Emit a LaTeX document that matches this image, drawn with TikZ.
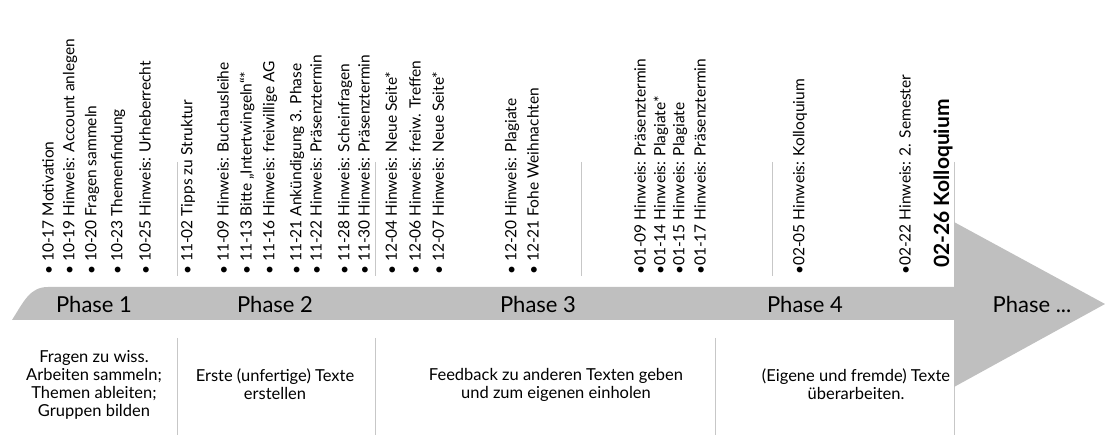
\documentclass[tikz,border=0pt]{standalone}
\usepackage{fontspec}
\setmainfont{Lato}
\begin{document}
\begin{tikzpicture}[x=1pt,y=-1pt,
  sep/.style={draw=black!22, line width=0.8pt},
  band/.style={fill=black!25},
  datum/.style={rotate=90, anchor=west, inner sep=0pt, font=\fontsize{15.5}{18}\selectfont},
  keydate/.style={datum, font=\fontsize{21}{24}\selectfont\bfseries},
  phase/.style={anchor=base, inner sep=0pt, font=\fontsize{22}{26}\selectfont},
  desc/.style={align=center, inner sep=0pt, font=\fontsize{16.5}{18}\selectfont}]
\useasboundingbox (0,0) rectangle (1105,435);

% thin separators between the phases, above and below the band
\foreach \x in {177,375,581,772,954}
  \draw[sep] (\x,162) -- (\x,276);
\foreach \x in {177,375,715,954}
  \draw[sep] (\x,338) -- (\x,435);

% the timeline arrow
\fill[band] (12,320) .. controls (24,301) and (30,287) .. (48,287)
  -- (954,287) -- (954,222) -- (1105,304) -- (954,387) -- (954,320) -- cycle;

% phase names on the band
\node[phase] (p1) at (94,313) {Phase 1};
\node[phase] (p2) at (275,313) {Phase 2};
\node[phase] (p3) at (538,313) {Phase 3};
\node[phase] (p4) at (805,313) {Phase 4};
\node[phase] (p5) at (1032,313) {Phase ...};

% dates, reading upwards from the band
\node[datum] (d01) at (48,275) {• 10-17 Motivation};
\node[datum] (d02) at (70,275) {• 10-19 Hinweis: Account anlegen};
\node[datum] (d03) at (92,275) {• 10-20 Fragen sammeln};
\node[datum] (d04) at (118,275) {• 10-23 Themenfindung};
\node[datum] (d05) at (145,275) {• 10-25 Hinweis: Urheberrecht};
\node[datum] (d06) at (188,275) {• 11-02 Tipps zu Struktur};
\node[datum] (d07) at (223,275) {• 11-09 Hinweis: Buchausleihe};
\node[datum] (d08) at (247,275) {• 11-13 Bitte „Intertwingeln“*};
\node[datum] (d09) at (270,275) {• 11-16 Hinweis: freiwillige AG};
\node[datum] (d10) at (297,275) {• 11-21 Ankündigung 3. Phase};
\node[datum] (d11) at (316,275) {• 11-22 Hinweis: Präsenztermin};
\node[datum] (d12) at (345,275) {• 11-28 Hinweis: Scheinfragen};
\node[datum] (d13) at (364,275) {• 11-30 Hinweis: Präsenztermin};
\node[datum] (d14) at (391,275) {• 12-04 Hinweis: Neue Seite*};
\node[datum] (d15) at (415,275) {• 12-06 Hinweis: freiw. Treffen};
\node[datum] (d16) at (438,275) {• 12-07 Hinweis: Neue Seite*};
\node[datum] (d17) at (512,275) {• 12-20 Hinweis: Plagiate};
\node[datum] (d18) at (533,275) {• 12-21 Fohe Weihnachten};
\node[datum] (d19) at (640,275) {•01-09 Hinweis: Präsenztermin};
\node[datum] (d20) at (661,275) {•01-14 Hinweis: Plagiate*};
\node[datum] (d21) at (680,275) {•01-15 Hinweis: Plagiate};
\node[datum] (d22) at (700,275) {•01-17 Hinweis: Präsenztermin};
\node[datum] (d23) at (800,275) {•02-05 Hinweis: Kolloquium};
\node[datum] (d24) at (905,275) {•02-22 Hinweis: 2. Semester};
\node[keydate] (d25) at (943,268) {02-26 Kolloquium};

% what each phase is about
\node[desc] (t1) at (94,384.5) {Fragen zu wiss.\\Arbeiten sammeln;\\Themen ableiten;\\Gruppen bilden};
\node[desc] (t2) at (275,384.5) {Erste (unfertige) Texte\\erstellen};
\node[desc] (t3) at (556,384.5) {Feedback zu anderen Texten geben\\und zum eigenen einholen};
\node[desc] (t4) at (856,384.5) {(Eigene und fremde) Texte\\überarbeiten.};
\end{tikzpicture}
\end{document}
